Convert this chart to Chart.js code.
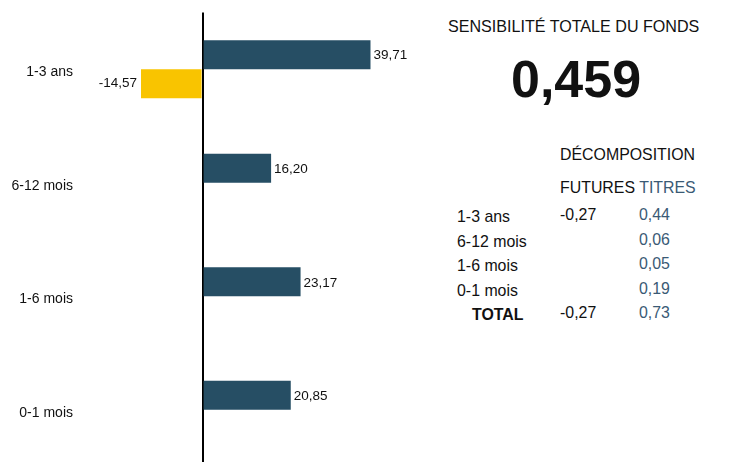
<!DOCTYPE html>
<html>
<head>
<meta charset="utf-8">
<script src="https://cdn.jsdelivr.net/npm/chart.js@4"></script>
<style>
  html, body { margin: 0; padding: 0; background: #fff; overflow: hidden; }
  body { width: 746px; height: 462px; position: relative; font-family: "Liberation Sans", Arial, sans-serif; color: #111; }
  #chart { position: absolute; left: 0; top: -3px; }
  .t { position: absolute; white-space: nowrap; font-size: 15.9px; line-height: 1; }
  .blue { color: #3a5a75; }
</style>
</head>
<body>
<canvas id="chart" width="414" height="485" style="width:414px;height:485px"></canvas>

<div class="t" style="left:448px; top:18px; font-size:16.1px;">SENSIBILITÉ TOTALE DU FONDS</div>
<div class="t" style="left:511px; top:53px; font-size:52px; font-weight:bold;" id="total"></div>
<div class="t" style="left:560px; top:147px;">DÉCOMPOSITION</div>
<div class="t" style="left:560px; top:180px;">FUTURES <span class="blue">TITRES</span></div>
<div id="table"></div>

<script>
const categories = ["1-3 ans", "6-12 mois", "1-6 mois", "0-1 mois"]
const titres = [39.71, 16.20, 23.17, 20.85]
const futures = [-14.57, null, null, null]

const totalSensi = "0,459"
const tableFutures = ["-0,27", "", "", "", "-0,27"]
const tableTitres = ["0,44", "0,06", "0,05", "0,19", "0,73"]

const fmt = v => v.toFixed(2).replace(".", ",")

// right-hand text block
document.getElementById("total").textContent = totalSensi
const rows = categories.concat(["TOTAL"])
let html = ""
rows.forEach((r, i) => {
  const top = 209 + i * 24.5
  const bold = r === "TOTAL"
  html += `<div class="t" style="left:${bold ? 472 : 457}px; top:${top}px;${bold ? " font-weight:bold;" : ""}">${r}</div>`
  html += `<div class="t" style="left:560px; top:${top - 2}px;">${tableFutures[i]}</div>`
  html += `<div class="t blue" style="left:639px; top:${top - 2}px;">${tableTitres[i]}</div>`
})
document.getElementById("table").innerHTML = html

// value labels next to the bars
const valueLabels = {
  id: "valueLabels",
  afterDatasetsDraw(chart) {
    const ctx = chart.ctx
    ctx.save()
    ctx.font = "13.5px 'Liberation Sans', Arial, sans-serif"
    ctx.fillStyle = "#111"
    ctx.textBaseline = "middle"
    chart.data.datasets.forEach((ds, di) => {
      chart.getDatasetMeta(di).data.forEach((bar, i) => {
        const v = ds.data[i]
        if (v === null || v === undefined) return
        if (v >= 0) {
          ctx.textAlign = "left"
          ctx.fillText(fmt(v), bar.x + 3, bar.y + 1)
        } else {
          ctx.textAlign = "right"
          ctx.fillText(fmt(v), bar.x - 4, bar.y)
        }
      })
    })
    ctx.restore()
  }
}

new Chart(document.getElementById("chart"), {
  type: "bar",
  data: {
    labels: categories,
    datasets: [{
        label: "Titres",
        data: titres,
        backgroundColor: "#264e64"
      },
      {
        label: "Futures",
        data: futures,
        backgroundColor: "#f9c400"
      }
    ]
  },
  options: {
    indexAxis: "y",
    responsive: false,
    animation: false,
    layout: {
      padding: { top: 0, bottom: 0, left: 0, right: 0 }
    },
    categoryPercentage: 0.51,
    barPercentage: 1,
    scales: {
      x: {
        min: -29,
        max: 50,
        border: { display: false },
        ticks: { display: false },
        grid: {
          drawTicks: false,
          color: c => c.tick && c.tick.value === 0 ? "#000" : "rgba(0,0,0,0)",
          lineWidth: 2
        },
        afterBuildTicks: axis => { axis.ticks = [{ value: 0 }] }
      },
      y: {
        border: { display: false },
        grid: { display: false, drawTicks: false },
        ticks: {
          color: "#111",
          padding: 7,
          labelOffset: 3,
          font: { family: "'Liberation Sans', Arial, sans-serif", size: 14 }
        },
        afterFit: axis => { axis.width = 80 }
      }
    },
    plugins: {
      legend: { display: false },
      tooltip: { enabled: false }
    }
  },
  plugins: [valueLabels]
})
</script>
</body>
</html>
